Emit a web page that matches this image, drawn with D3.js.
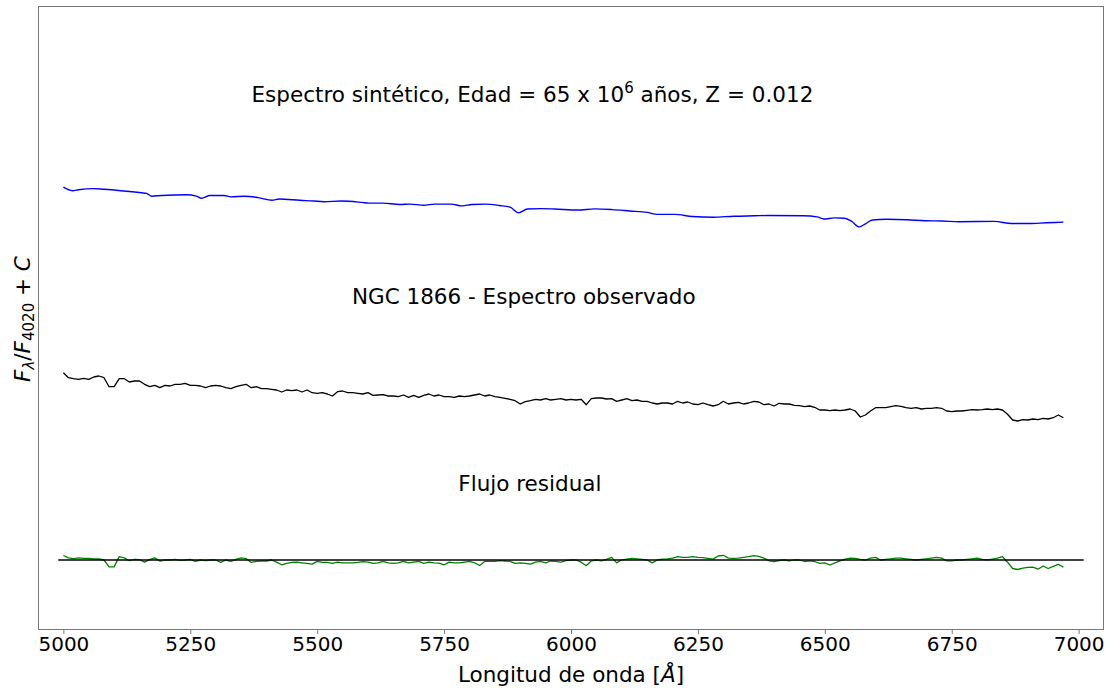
<!DOCTYPE html>
<meta charset="utf-8">
<style>
  body { margin: 0; background: #fff; }
  text { font-family: "DejaVu Sans", sans-serif; }
</style>
<svg width="1112" height="691"></svg>
<script src="https://d3js.org/d3.v7.min.js"></script>
<script>

// ---- data (flux normalised at 4020 A plus a constant offset per spectrum) ----
var xTicks = [5000, 5250, 5500, 5750, 6000, 6250, 6500, 6750, 7000];

// synthetic spectrum (blue)
var synthWave = [5000, 5018, 5030, 5059, 5080, 5113, 5154, 5164, 5174, 5194,
  5242, 5262, 5272, 5289, 5317, 5330, 5357, 5384, 5411, 5425,
  5466, 5493, 5513, 5547, 5588, 5602, 5629, 5663, 5683, 5710,
  5731, 5764, 5785, 5805, 5832, 5859, 5880, 5897, 5914, 5941,
  5968, 6013, 6047, 6081, 6116, 6150, 6170, 6204, 6239, 6280,
  6321, 6362, 6389, 6457, 6485, 6498, 6519, 6539, 6553, 6568,
  6580, 6594, 6621, 6662, 6697, 6731, 6765, 6834, 6868, 6902,
  6936, 6970];
var synthFlux = [3.728, 3.693, 3.703, 3.714, 3.707, 3.693, 3.672, 3.666, 3.638, 3.645,
  3.652, 3.638, 3.617, 3.645, 3.645, 3.631, 3.638, 3.624, 3.597, 3.61,
  3.597, 3.59, 3.583, 3.59, 3.576, 3.569, 3.569, 3.555, 3.559, 3.548,
  3.559, 3.559, 3.541, 3.555, 3.559, 3.545, 3.528, 3.472, 3.51, 3.514,
  3.51, 3.50, 3.511, 3.504, 3.49, 3.476, 3.456, 3.456, 3.435, 3.428,
  3.438, 3.442, 3.445, 3.442, 3.431, 3.41, 3.421, 3.417, 3.386, 3.331,
  3.362, 3.40, 3.407, 3.403, 3.393, 3.39, 3.383, 3.386, 3.365, 3.365,
  3.372, 3.379];

// observed spectrum of NGC 1866 (black), one value every 10 A from 5000 to 6970
var obsWave = d3.range(5000, 6971, 10);
var obsFlux = [
  1.873, 1.823, 1.813, 1.807, 1.817, 1.807, 1.83, 1.84, 1.823, 1.733,
  1.733, 1.813, 1.813, 1.78, 1.79, 1.79, 1.757, 1.733, 1.747, 1.723,
  1.747, 1.74, 1.757, 1.757, 1.767, 1.747, 1.747, 1.74, 1.723, 1.74,
  1.747, 1.74, 1.723, 1.713, 1.733, 1.747, 1.757, 1.723, 1.733, 1.713,
  1.713, 1.707, 1.70, 1.68, 1.70, 1.693, 1.70, 1.68, 1.70, 1.673,
  1.667, 1.673, 1.66, 1.64, 1.683, 1.69, 1.673, 1.673, 1.667, 1.66,
  1.673, 1.647, 1.65, 1.653, 1.64, 1.64, 1.633, 1.65, 1.627, 1.647,
  1.627, 1.647, 1.66, 1.64, 1.65, 1.633, 1.633, 1.627, 1.64, 1.633,
  1.64, 1.65, 1.66, 1.64, 1.65, 1.633, 1.627, 1.617, 1.607, 1.593,
  1.56, 1.583, 1.593, 1.607, 1.60, 1.613, 1.60, 1.607, 1.613, 1.60,
  1.607, 1.60, 1.607, 1.553, 1.613, 1.62, 1.62, 1.61, 1.613, 1.587,
  1.60, 1.613, 1.593, 1.60, 1.587, 1.587, 1.57, 1.56, 1.57, 1.57,
  1.56, 1.587, 1.57, 1.58, 1.56, 1.553, 1.57, 1.553, 1.54, 1.553,
  1.587, 1.56, 1.57, 1.577, 1.56, 1.57, 1.587, 1.58, 1.553, 1.56,
  1.54, 1.567, 1.56, 1.56, 1.547, 1.543, 1.533, 1.54, 1.527, 1.50,
  1.50, 1.493, 1.50, 1.493, 1.50, 1.51, 1.49, 1.43, 1.45, 1.49,
  1.523, 1.523, 1.523, 1.533, 1.543, 1.537, 1.523, 1.517, 1.523, 1.51,
  1.517, 1.517, 1.523, 1.517, 1.49, 1.483, 1.49, 1.49, 1.497, 1.503,
  1.50, 1.503, 1.51, 1.503, 1.51, 1.50, 1.457, 1.40, 1.39, 1.403,
  1.40, 1.41, 1.403, 1.417, 1.41, 1.423, 1.45, 1.423];

// residual flux (green), same wavelengths as the observed spectrum
var resFlux = [
  0.045, 0.021, 0.014, 0.021, 0.017, 0.017, 0.010, 0.010, 0.0, -0.069,
  -0.069, 0.034, 0.021, -0.007, 0.007, 0.003, -0.021, 0.003, 0.021, -0.01,
  0.0, 0.0, 0.007, -0.003, 0.0, 0.007, -0.014, 0.0, -0.007, 0.0,
  0.0, -0.024, 0.0, -0.014, 0.007, 0.021, 0.014, -0.024, -0.014, -0.01,
  -0.01, 0.0, -0.021, -0.048, -0.034, -0.024, -0.021, -0.028, -0.034, -0.041,
  -0.014, -0.024, -0.024, -0.034, -0.021, -0.028, -0.028, -0.028, -0.024, -0.017,
  -0.021, -0.034, -0.028, -0.014, -0.028, -0.034, -0.028, -0.014, -0.028, -0.021,
  -0.014, -0.034, -0.021, -0.028, -0.031, -0.048, -0.021, -0.028, -0.028, -0.021,
  -0.014, -0.028, -0.055, -0.014, -0.014, -0.014, -0.007, -0.01, -0.014, -0.034,
  -0.028, -0.034, -0.041, -0.021, -0.014, -0.028, -0.01, -0.014, -0.021, -0.007,
  0.0, 0.0, -0.022, -0.057, -0.008, 0.0, -0.008, 0.006, 0.026, -0.029,
  0.002, 0.009, 0.016, 0.012, 0.006, 0.0, -0.029, 0.0, 0.009, 0.012,
  0.019, 0.033, 0.026, 0.026, 0.033, 0.026, 0.023, 0.016, 0.009, 0.04,
  0.047, 0.019, 0.016, 0.019, 0.026, 0.033, 0.044, 0.037, 0.019, -0.008,
  -0.015, -0.005, 0.0, -0.008, 0.002, 0.0, -0.015, -0.008, -0.015, -0.033,
  -0.029, -0.05, -0.029, -0.008, 0.009, 0.019, 0.016, 0.006, 0.0, 0.019,
  0.026, 0.0, 0.006, 0.012, 0.019, 0.019, 0.012, 0.006, 0.0, 0.006,
  0.012, 0.019, 0.026, 0.019, -0.008, -0.008, 0.0, 0.0, 0.006, 0.012,
  0.019, 0.006, 0.002, 0.009, 0.019, 0.033, -0.022, -0.085, -0.095, -0.081,
  -0.074, -0.071, -0.092, -0.06, -0.085, -0.064, -0.043, -0.071];

// zero level of the residual
var zeroWave = [4990, 7010],
    zeroFlux = [0, 0];

// annotations: [wavelength, flux, text]
var notes = [
  [5907, 2.56, "NGC 1866 - Espectro observado"],
  [5919, 0.69, "Flujo residual"]
];

// ---- drawing ----
var svg = d3.select("svg"),
    width = +svg.attr("width"),
    height = +svg.attr("height"),
    margin = {top: 6, right: 8, bottom: 61, left: 38},
    labelSize = 21.5;

var x = d3.scaleLinear().domain([4950, 7050]).range([margin.left, width - margin.right]),
    y = d3.scaleLinear().domain([-0.70, 5.54]).range([height - margin.bottom, margin.top]);

function series(wave, flux) {
  return wave.map(function(w, i) { return [w, flux[i]]; });
}

var line = d3.line()
    .x(function(d) { return x(d[0]); })
    .y(function(d) { return y(d[1]); });

svg.append("rect")
    .attr("width", width).attr("height", height)
    .attr("fill", "#fff");

var plot = svg.append("g");

plot.append("path")
    .datum(series(synthWave, synthFlux))
    .attr("fill", "none")
    .attr("stroke", "blue")
    .attr("stroke-width", 1.4)
    .attr("d", line.curve(d3.curveMonotoneX));

line.curve(d3.curveLinear);

plot.append("path")
    .datum(series(obsWave, obsFlux))
    .attr("fill", "none")
    .attr("stroke", "black")
    .attr("stroke-width", 1.3)
    .attr("stroke-linejoin", "round")
    .attr("d", line);

plot.append("path")
    .datum(series(obsWave, resFlux))
    .attr("fill", "none")
    .attr("stroke", "green")
    .attr("stroke-width", 1.3)
    .attr("stroke-linejoin", "round")
    .attr("d", line);

plot.append("path")
    .datum(series(zeroWave, zeroFlux))
    .attr("fill", "none")
    .attr("stroke", "black")
    .attr("stroke-width", 1.5)
    .attr("d", line);

// title of the synthetic spectrum, with the exponent as a superscript
var t1 = svg.append("text")
    .attr("x", x(5924))
    .attr("y", y(4.58))
    .attr("text-anchor", "middle")
    .attr("font-size", labelSize)
    .attr("fill", "#000");
t1.append("tspan").text("Espectro sintético, Edad = 65 x 10");
t1.append("tspan").attr("font-size", 15).attr("dy", -9).text("6");
t1.append("tspan").attr("dy", 9).text(" años, Z = 0.012");

svg.selectAll(".note")
    .data(notes)
  .enter().append("text")
    .attr("class", "note")
    .attr("x", function(d) { return x(d[0]); })
    .attr("y", function(d) { return y(d[1]); })
    .attr("text-anchor", "middle")
    .attr("font-size", labelSize)
    .attr("fill", "#000")
    .text(function(d) { return d[2]; });

// axes frame
svg.append("rect")
    .attr("x", margin.left + 0.5)
    .attr("y", margin.top + 0.5)
    .attr("width", width - margin.left - margin.right - 1)
    .attr("height", height - margin.top - margin.bottom - 1)
    .attr("fill", "none")
    .attr("stroke", "#777")
    .attr("stroke-width", 1);

var xAxis = svg.append("g")
    .attr("transform", "translate(0," + (height - margin.bottom) + ")")
    .call(d3.axisBottom(x).tickValues(xTicks).tickSize(4).tickPadding(3).tickFormat(d3.format("d")));
xAxis.select(".domain").remove();
xAxis.selectAll("line").attr("stroke", "#777");
xAxis.selectAll("text")
    .attr("font-family", "DejaVu Sans, sans-serif")
    .attr("font-size", 20)
    .attr("fill", "#000");

// axis labels
var xl = svg.append("text")
    .attr("x", (margin.left + width - margin.right) / 2)
    .attr("y", 682)
    .attr("text-anchor", "middle")
    .attr("font-size", labelSize);
xl.append("tspan").text("Longitud de onda [");
xl.append("tspan").attr("font-style", "italic").text("Å");
xl.append("tspan").text("]");

var yl = svg.append("text")
    .attr("transform", "translate(30,319) rotate(-90)")
    .attr("text-anchor", "middle")
    .attr("font-size", labelSize);
yl.append("tspan").attr("font-style", "italic").text("F");
yl.append("tspan").attr("font-style", "italic").attr("font-size", 15).attr("dy", 4).text("λ");
yl.append("tspan").attr("dy", -4).text("/");
yl.append("tspan").attr("font-style", "italic").text("F");
yl.append("tspan").attr("font-size", 15).attr("dy", 4).text("4020");
yl.append("tspan").attr("dy", -4).text(" + ");
yl.append("tspan").attr("font-style", "italic").text("C");

</script>
